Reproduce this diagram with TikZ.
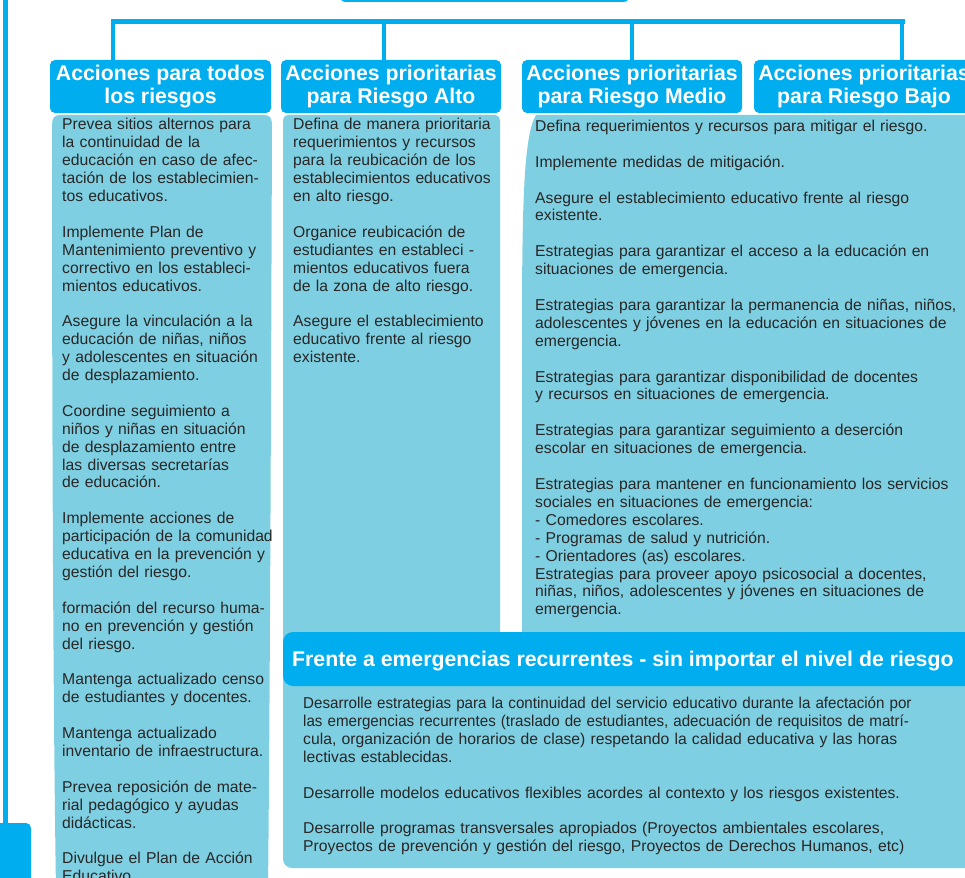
\documentclass[tikz,border=0pt]{standalone}
\usepackage{graphicx}
\usepackage{fontspec}
\setmainfont{Liberation Sans}
\definecolor{cblue}{RGB}{0,174,239}
\definecolor{lblue}{RGB}{126,207,226}
\definecolor{txt}{RGB}{40,38,38}
\newcommand{\gapline}{\\[17.9pt]}
\newcommand{\sqz}[1]{\scalebox{0.963}[1]{#1}}
\begin{document}
\begin{tikzpicture}[x=1pt,y=-1pt,
  hdr/.style={fill=cblue, rounded corners=5pt, text=white,
    font=\fontsize{21.25}{22.5}\selectfont\bfseries, align=center,
    minimum width=220pt, minimum height=53pt, inner sep=0pt},
  bodytext/.style={text=txt, font=\fontsize{15.72}{17.9}\selectfont,
    align=left, anchor=base west, inner sep=0pt, text width=#1},
  bodytext/.default=300pt,
  bar/.style={draw=cblue, line width=5pt, line cap=rect},
  link/.style={draw=cblue, line width=4pt},
  panel/.style={fill=lblue},
]
\useasboundingbox (0,0) rectangle (965,877);
\clip (0,0) rectangle (965,877);

% page decoration at left
\draw[cblue, line width=4.6pt] (5.2,-5) -- (5.2,826);
\fill[cblue, rounded corners=5pt] (-10,823) rectangle (31,890);

% top (root) box, only its lower edge is visible
\node (top) [draw=cblue, line width=2pt, rounded corners=6pt,
  minimum width=289pt, minimum height=40pt, inner sep=0pt] at (484.5,-19) {};

% connector bar
\coordinate (b1) at (113,21.5);
\coordinate (b2) at (384,21.5);
\coordinate (b3) at (632,21.5);
\coordinate (b4) at (902,21.5);

% content panels
\fill[panel] (52,125) .. controls (52,118) and (54,115) .. (61,115)
  -- (264,115) .. controls (270,115) and (272,118) .. (272,125)
  .. controls (271,400) and (270,700) .. (268,890) -- (56,890)
  .. controls (53,700) and (52,400) .. (52,125) -- cycle;
\fill[panel, rounded corners=5pt] (283,115) rectangle (500,700);
\fill[panel] (536,115) -- (975,115) -- (975,700) -- (522,700) -- (522,330)
  .. controls (522,200) and (524,135) .. (536,115) -- cycle;
\fill[panel, rounded corners=9pt] (283,650) rectangle (985,868);

% headers
\node (h1) [hdr, minimum width=221pt] at (160.5,86.5) {Acciones para todos\\los riesgos};
\node (h2) [hdr] at (391,86.5) {Acciones prioritarias\\para Riesgo Alto};
\node (h3) [hdr] at (632,86.5) {Acciones prioritarias\\para Riesgo Medio};
\node (h4) [hdr] at (864,86.5) {Acciones prioritarias\\para Riesgo Bajo};

\draw[bar] (b1) -- (b4);
\draw[link] (b1) -- (b1 |- h1.north);
\draw[link] (b2) -- (b2 |- h2.north);
\draw[link] (b3) -- (b3 |- h3.north);
\draw[link] (b4) -- (b4 |- h4.north);

% column texts
\node (t1) [bodytext] at (62,130) {Prevea sitios alternos para\\la continuidad de la\\educación en caso de afec-\\tación de los establecimien-\\tos educativos.\gapline
Implemente Plan de\\Mantenimiento preventivo y\\correctivo en los estableci-\\mientos educativos.\gapline
Asegure la vinculación a la\\educación de niñas, niños\\y adolescentes en situación\\de desplazamiento.\gapline
Coordine seguimiento a\\niños y niñas en situación\\de desplazamiento entre\\las diversas secretarías\\de educación.\gapline
Implemente acciones de\\participación de la comunidad\\educativa en la prevención y\\gestión del riesgo.\gapline
formación del recurso huma-\\no en prevención y gestión\\del riesgo.\gapline
Mantenga actualizado censo\\de estudiantes y docentes.\gapline
Mantenga actualizado\\inventario de infraestructura.\gapline
Prevea reposición de mate-\\rial pedagógico y ayudas\\didácticas.\gapline
Divulgue el Plan de Acción\\Educativo};

\node (t2) [bodytext] at (293,130) {Defina de manera prioritaria\\requerimientos y recursos\\para la reubicación de los\\establecimientos educativos\\en alto riesgo.\gapline
Organice reubicación de\\estudiantes en estableci -\\mientos educativos fuera\\de la zona de alto riesgo.\gapline
Asegure el establecimiento\\educativo frente al riesgo\\existente.};

\node (t3) [bodytext=440pt] at (535,131.5) {Defina requerimientos y recursos para mitigar el riesgo.\gapline
Implemente medidas de mitigación.\gapline
Asegure el establecimiento educativo frente al riesgo\\existente.\gapline
Estrategias para garantizar el acceso a la educación en\\situaciones de emergencia.\gapline
Estrategias para garantizar la permanencia de niñas, niños,\\adolescentes y jóvenes en la educación en situaciones de\\emergencia.\gapline
Estrategias para garantizar disponibilidad de docentes\\y recursos en situaciones de emergencia.\gapline
Estrategias para garantizar seguimiento a deserción\\escolar en situaciones de emergencia.\gapline
Estrategias para mantener en funcionamiento los servicios\\sociales en situaciones de emergencia:\\- Comedores escolares.\\- Programas de salud y nutrición.\\- Orientadores (as) escolares.\\Estrategias para proveer apoyo psicosocial a docentes,\\niñas, niños, adolescentes y jóvenes en situaciones de\\emergencia.};

% recurring emergencies block
\node (fh) [fill=cblue, rounded corners=10pt, minimum width=702pt,
  minimum height=54pt, inner sep=0pt] at (634,659) {};
\node (ft) [anchor=base west, inner sep=0pt, text=white,
  font=\fontsize{21.25}{22.5}\selectfont\bfseries] at (292,666.5)
  {Frente a emergencias recurrentes - sin importar el nivel de riesgo};
\node (t4) [bodytext=660pt] at (303,708.5) {\sqz{Desarrolle estrategias para la continuidad del servicio educativo durante la afectación por}\\\sqz{las emergencias recurrentes (traslado de estudiantes, adecuación de requisitos de matrí-}\\cula, organización de horarios de clase) respetando la calidad educativa y las horas\\lectivas establecidas.\gapline
Desarrolle modelos educativos flexibles acordes al contexto y los riesgos existentes.\gapline
Desarrolle programas transversales apropiados (Proyectos ambientales escolares,\\Proyectos de prevención y gestión del riesgo, Proyectos de Derechos Humanos, etc)};
\end{tikzpicture}
\end{document}
